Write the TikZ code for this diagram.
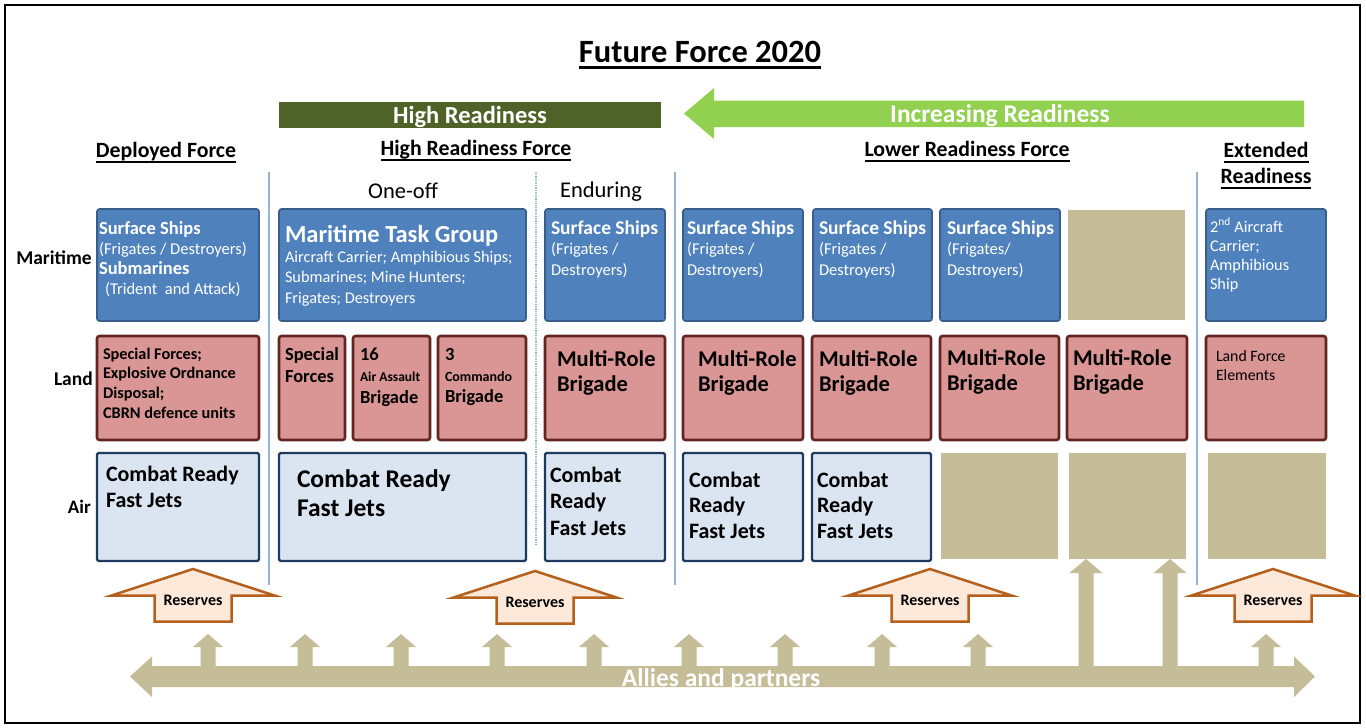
\documentclass[tikz,border=0pt]{standalone}
\usepackage{fontspec}
\setmainfont{Carlito}
\usetikzlibrary{calc}
\definecolor{mblue}{HTML}{4F81BD}
\definecolor{mblueB}{HTML}{385D8A}
\definecolor{lred}{HTML}{D99694}
\definecolor{lredB}{HTML}{632523}
\definecolor{airF}{HTML}{DBE5F1}
\definecolor{airB}{HTML}{1F3A5F}
\definecolor{khaki}{HTML}{C4BD97}
\definecolor{resF}{HTML}{FDE9D9}
\definecolor{resB}{HTML}{B5601C}
\definecolor{olive}{HTML}{4F6228}
\definecolor{lgreen}{HTML}{92D050}
\definecolor{sepc}{HTML}{95B3D7}
\newcommand\fs[2]{\fontsize{#1}{#2}\selectfont}
\newcommand\ml[1]{\vtop{\halign{##\hfil\cr#1\crcr}}}
\newsavebox\ulbox
\newcommand\ulx[3]{\sbox\ulbox{#3}\rlap{\rule[#1]{\wd\ulbox}{#2}}\usebox\ulbox}
\newcommand\bx[6]{\node[#2, minimum width={(#5)-(#3)}, minimum height={(#6)-(#4)}] (#1) at ({((#3)+(#5))/2},{((#4)+(#6))/2}) {};}
\tikzset{
  bxbase/.style={rectangle, inner sep=0pt, outer sep=0pt},
  mar/.style={bxbase, fill=mblue, draw=mblueB, line width=1.6pt, rounded corners=2.5pt},
  lnd/.style={bxbase, fill=lred, draw=lredB, line width=2.6pt, rounded corners=2.5pt},
  air/.style={bxbase, fill=airF, draw=airB, line width=2.4pt, rounded corners=1.5pt},
  kha/.style={bxbase, fill=khaki},
  tx/.style={anchor=base west, inner sep=0pt, outer sep=0pt},
  wt/.style={tx, text=white},
  hd/.style={anchor=base, inner sep=0pt, outer sep=0pt, font=\bfseries\fs{21.8}{24}},
  sepl/.style={draw=sepc, line width=1.2pt},
  resst/.style={fill=resF, draw=resB, line width=2.5pt, line join=miter},
  rtext/.style={anchor=base, inner sep=0pt, font=\bfseries\fs{16}{18}},
}
\begin{document}
\begin{tikzpicture}[x=1pt,y=-1pt]
\useasboundingbox (0,0) rectangle (1366,728);
\fill[white] (0,0) rectangle (1366,728);
\draw[line width=2.5pt] (5,5) rectangle (1360,723);

% title
\node[anchor=base, inner sep=0pt, font=\bfseries\fs{32.5}{35}] (title) at (700,62) {\ulx{-6.5pt}{2.4pt}{Future Force 2020}};

% readiness bars
\node[bxbase, fill=olive, minimum width=382, minimum height=26] (hrbar) at (470,114.5) {};
\node[anchor=base, inner sep=0pt, text=white, font=\bfseries\fs{24.5}{26}] (hrtext) at (470,123) {High Readiness};
\fill[lgreen] (1304,100.5) -- (714,100.5) -- (714,88) -- (684,113.5) -- (714,139) -- (714,127) -- (1304,127) -- cycle;
\node[anchor=base, inner sep=0pt, text=white, font=\bfseries\fs{25.5}{27}] (irtext) at (1000,122) {Increasing Readiness};

% headers
\node[hd] (hdep) at (166,157) {\ulx{-5.5pt}{1.8pt}{Deployed Force}};
\node[hd] (hhrf) at (476,155) {\ulx{-5.5pt}{1.8pt}{High Readiness Force}};
\node[hd] (hlrf) at (967,156) {\ulx{-5.5pt}{1.8pt}{Lower Readiness Force}};
\node[hd] (hext1) at (1266,157) {\ulx{-5.5pt}{1.8pt}{Extended}};
\node[hd] (hext2) at (1266,183) {\ulx{-5.5pt}{1.8pt}{Readiness}};
\node[anchor=base, inner sep=0pt, font=\fs{22.5}{24}] (oneoff) at (403,198) {One-off};
\node[anchor=base, inner sep=0pt, font=\fs{22.5}{24}] (endur) at (601,197) {Enduring};

% separators
\draw[sepl] (269,172) -- (269,585);
\draw[sepl] (675,172) -- (675,585);
\draw[sepl] (1197,172) -- (1197,585);
\draw[sepl, densely dotted] (536,172) -- (536,545);

% row labels
\node[anchor=base east, inner sep=0pt, font=\bfseries\fs{19.5}{20}] (lmar) at (92,264) {Maritime};
\node[anchor=base east, inner sep=0pt, font=\bfseries\fs{19.5}{20}] (lland) at (93,385) {Land};
\node[anchor=base east, inner sep=0pt, font=\bfseries\fs{19}{20}] (lair) at (91,513) {Air};

% maritime row
\bx{dm}{mar}{97}{209}{259}{321}
\bx{mtg}{mar}{279}{209}{526}{321}
\bx{em}{mar}{545}{209}{665}{321}
\bx{lm1}{mar}{683}{209}{803}{321}
\bx{lm2}{mar}{813}{209}{932}{321}
\bx{lm3}{mar}{940}{209}{1060}{321}
\bx{km}{kha}{1068}{210}{1185}{320}
\bx{xm}{mar}{1206}{209}{1326}{321}

\node[wt, font=\fs{18}{20}] (dmt) at (99,234) {\ml{\textbf{\fs{18.5}{20}Surface Ships}\cr \fs{16.5}{20}(Frigates / Destroyers)\cr \textbf{\fs{18.5}{20}Submarines}\cr \fs{16.5}{20}\hspace*{6pt}(Trident\ \ and Attack)}};
\node[wt, font=\bfseries\fs{24.5}{26}] (mtgt) at (285,242) {Maritime Task Group};
\node[wt, font=\fs{16.3}{20.6}] (mtgb) at (285,262) {\ml{Aircraft Carrier; Amphibious Ships;\cr Submarines; Mine Hunters;\cr Frigates; Destroyers}};
\node[wt, font=\fs{16.5}{20.5}] (emt) at (551,234) {\ml{\textbf{\fs{19.5}{20}Surface Ships}\cr (Frigates /\cr Destroyers)}};
\node[wt, font=\fs{16.5}{20.5}] (lm1t) at (687,234) {\ml{\textbf{\fs{19.5}{20}Surface Ships}\cr (Frigates /\cr Destroyers)}};
\node[wt, font=\fs{16.5}{20.5}] (lm2t) at (819,234) {\ml{\textbf{\fs{19.5}{20}Surface Ships}\cr (Frigates /\cr Destroyers)}};
\node[wt, font=\fs{16.5}{20.5}] (lm3t) at (947,234) {\ml{\textbf{\fs{19.5}{20}Surface Ships}\cr (Frigates/\cr Destroyers)}};
\node[wt, font=\fs{16.3}{19}] (xmt) at (1210,232) {\ml{2\textsuperscript{nd} Aircraft\cr Carrier;\cr Amphibious\cr Ship}};

% land row
\bx{dl}{lnd}{97}{336}{259}{440}
\bx{sf}{lnd}{279}{336}{345}{440}
\bx{aa}{lnd}{353}{336}{430}{440}
\bx{cb}{lnd}{438}{336}{526}{440}
\bx{el}{lnd}{545}{336}{665}{440}
\bx{ll1}{lnd}{683}{336}{803}{440}
\bx{ll2}{lnd}{812}{336}{931}{440}
\bx{ll3}{lnd}{940}{336}{1059}{440}
\bx{ll4}{lnd}{1067}{336}{1187}{440}
\bx{xl}{lnd}{1206}{336}{1326}{440}

\node[tx, font=\bfseries\fs{16.3}{19.7}] (dlt) at (103,359) {\ml{Special Forces;\cr Explosive Ordnance\cr Disposal;\cr CBRN defence units}};
\node[tx, font=\bfseries\fs{18.5}{22}] (sft) at (285,360) {\ml{Special\cr Forces}};
\node[tx, font=\bfseries\fs{18.5}{21.5}] (aat) at (360,360) {\ml{16\cr \fs{13.5}{15}Air Assault\cr Brigade}};
\node[tx, font=\bfseries\fs{18.5}{21}] (cbt) at (445,360) {\ml{3\cr \fs{14}{15}Commando\cr Brigade}};
\node[tx, font=\bfseries\fs{22.5}{25.5}] (elt) at (557,366) {\ml{Multi-Role\cr Brigade}};
\node[tx, font=\bfseries\fs{22.5}{25.5}] (ll1t) at (698,366) {\ml{Multi-Role\cr Brigade}};
\node[tx, font=\bfseries\fs{22.5}{25.5}] (ll2t) at (819,366) {\ml{Multi-Role\cr Brigade}};
\node[tx, font=\bfseries\fs{22.5}{25.5}] (ll3t) at (947,365) {\ml{Multi-Role\cr Brigade}};
\node[tx, font=\bfseries\fs{22.5}{25.5}] (ll4t) at (1073,365) {\ml{Multi-Role\cr Brigade}};
\node[tx, font=\fs{15.8}{19.5}] (xlt) at (1216,361) {\ml{Land Force\cr Elements}};

% air row
\bx{da}{air}{97}{453}{259}{561}
\bx{oa}{air}{279}{453}{526}{561}
\bx{ea}{air}{545}{453}{665}{561}
\bx{la1}{air}{683}{453}{803}{561}
\bx{la2}{air}{812}{453}{931}{561}
\bx{ka1}{kha}{941}{453}{1058}{559}
\bx{ka2}{kha}{1069}{453}{1186}{559}
\bx{ka3}{kha}{1208}{453}{1326}{559}

\node[tx, font=\bfseries\fs{22}{26}] (dat) at (106,481) {\ml{Combat Ready\cr Fast Jets}};
\node[tx, font=\bfseries\fs{25.5}{29}] (oat) at (297,487) {\ml{Combat Ready\cr Fast Jets}};
\node[tx, font=\bfseries\fs{22}{26.5}] (eat) at (550,482) {\ml{Combat\cr Ready\cr Fast Jets}};
\node[tx, font=\bfseries\fs{22}{25.5}] (la1t) at (689,487) {\ml{Combat\cr Ready\cr Fast Jets}};
\node[tx, font=\bfseries\fs{22}{25.5}] (la2t) at (817,487) {\ml{Combat\cr Ready\cr Fast Jets}};

% reserves arrows
\foreach \cx/\ty/\nm in {193/569/r1, 535/571/r2, 930/569/r3, 1273/569/r4}{
  \draw[resst] (\cx,\ty) -- ++(81.5,26.5) -- ++(-43,0) -- ++(0,26) -- ++(-77,0) -- ++(0,-26) -- ++(-43,0) -- cycle;
  \node[rtext] (\nm) at (\cx,{\ty+36.5}) {Reserves};
}

% allies and partners
\fill[khaki] (130,676.5) -- (152,656.5) -- (152,666) -- (1294,666) -- (1294,656.5) -- (1315,676.5) -- (1294,697) -- (1294,687) -- (152,687) -- (152,697) -- cycle;
\foreach \xx in {208,305,401,497,594,689,785,882,978,1266}{
  \fill[khaki] ({\xx-7.5},667) -- ({\xx-7.5},647) -- ({\xx-15},647) -- (\xx,634) -- ({\xx+15},647) -- ({\xx+7.5},647) -- ({\xx+7.5},667) -- cycle;
}
\foreach \xx in {1086,1170}{
  \fill[khaki] ({\xx-7.5},667) -- ({\xx-7.5},573) -- ({\xx-16.5},573) -- (\xx,559) -- ({\xx+16.5},573) -- ({\xx+7.5},573) -- ({\xx+7.5},667) -- cycle;
}
\node[anchor=base, inner sep=0pt, text=white, font=\bfseries\fs{25.5}{27}] (allies) at (721,686) {Allies and partners};
\end{tikzpicture}
\end{document}
